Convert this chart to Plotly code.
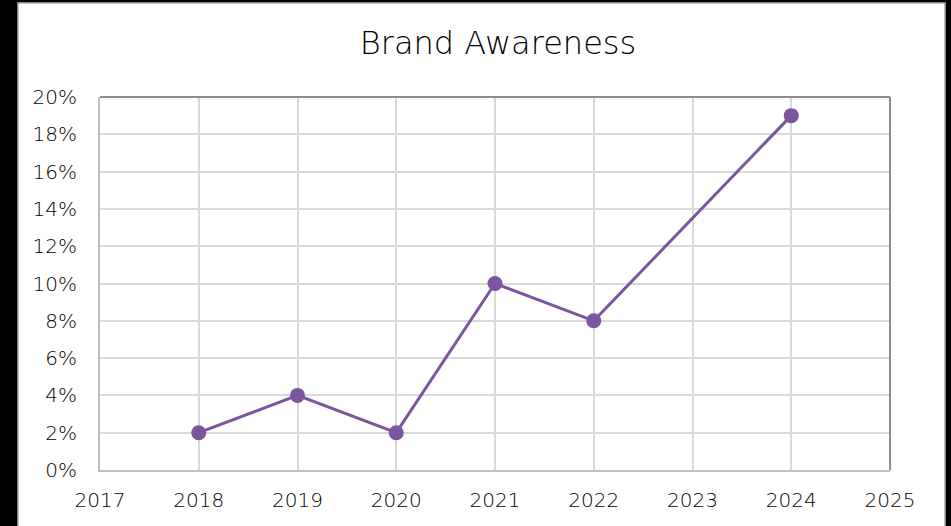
import plotly.graph_objects as go

years = [2018, 2019, 2020, 2021, 2022, 2024]
awareness = [0.02, 0.04, 0.02, 0.10, 0.08, 0.19]
x_ticks = [2017, 2018, 2019, 2020, 2021, 2022, 2023, 2024, 2025]
y_ticks = [0, 0.02, 0.04, 0.06, 0.08, 0.10, 0.12, 0.14, 0.16, 0.18, 0.20]

W, H = 951, 526
L, R, T, B = 100, 61, 97, 56
pw, ph = W - L - R, H - T - B

def px(x):
    return (x - L) / pw

def py(y):
    return (H - B - y) / ph

purple = "#7b559d"
font_family = "'DejaVu Sans', sans-serif"
text_color = "#000000"

fig = go.Figure()
fig.add_trace(go.Scatter(
    x=years, y=awareness, mode="lines+markers",
    line=dict(color=purple, width=3),
    marker=dict(color=purple, size=15),
    showlegend=False,
))

shapes = [
    # white card over black page
    dict(type="rect", xref="paper", yref="paper", layer="below",
         x0=px(18), x1=px(945), y0=py(540), y1=py(3),
         fillcolor="white", line=dict(color="#b0b0b0", width=1.5)),
    # top and right border of plot area
    dict(type="line", xref="paper", yref="paper", x0=0, x1=1, y0=1, y1=1,
         line=dict(color="#8c8c8c", width=2)),
    dict(type="line", xref="paper", yref="paper", x0=1, x1=1, y0=0, y1=1,
         line=dict(color="#8c8c8c", width=2)),
]

fig.update_layout(
    width=W, height=H,
    margin=dict(l=L, r=R, t=T, b=B),
    paper_bgcolor="black",
    plot_bgcolor="white",
    font=dict(family=font_family, color=text_color, size=20, weight=300),
    title=dict(text="Brand Awareness", x=498 / W, xref="container", xanchor="center",
               y=1 - 43 / H, yref="container", yanchor="middle",
               font=dict(size=32, family=font_family, color=text_color, weight=300)),
    shapes=shapes,
    xaxis=dict(range=[2017, 2025], tickvals=x_ticks, ticktext=[str(v) for v in x_ticks],
               showgrid=True, gridcolor="#d9d9d9", gridwidth=2,
               showline=True, linecolor="#bfbfbf", linewidth=2,
               zeroline=False, ticks="", ticklabelstandoff=11,
               tickfont=dict(size=20, weight=300, color=text_color)),
    yaxis=dict(range=[0, 0.2], tickvals=y_ticks, tickformat=".0%",
               showgrid=True, gridcolor="#d9d9d9", gridwidth=2,
               showline=True, linecolor="#bfbfbf", linewidth=2,
               zeroline=False, ticks="", ticklabelstandoff=17,
               tickfont=dict(size=20, weight=300, color=text_color)),
)

fig.write_html("out.html")
